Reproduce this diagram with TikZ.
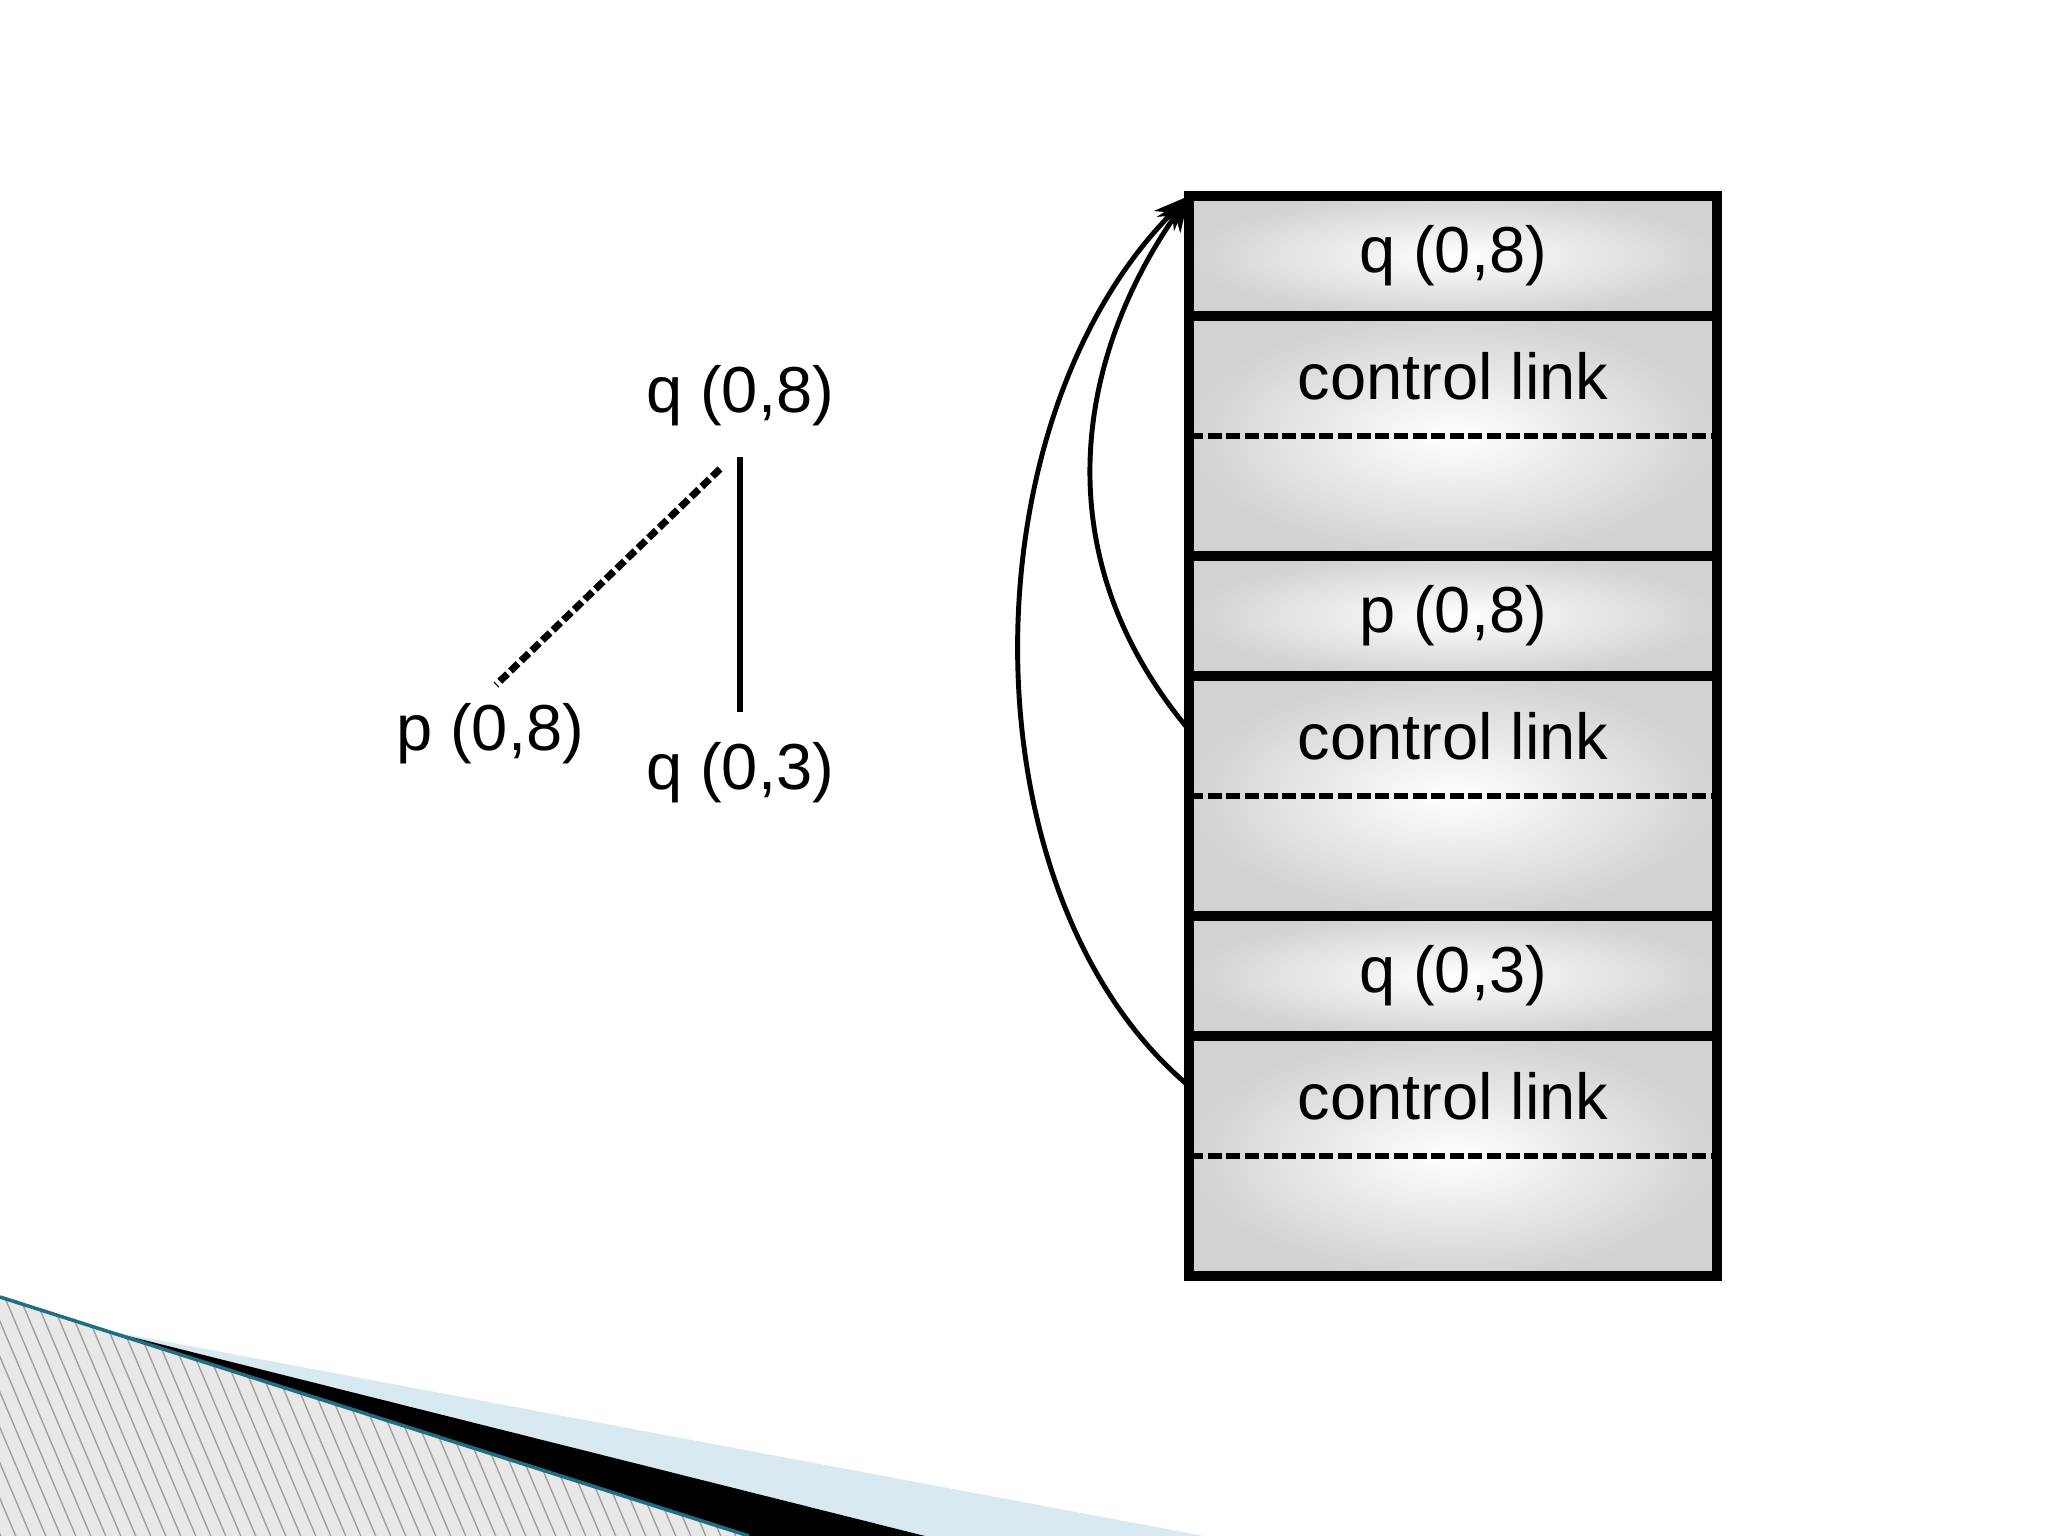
\documentclass[tikz,border=0pt]{standalone}
\usepackage{fontspec}
\setmainfont{Liberation Sans}
\usetikzlibrary{positioning, arrows.meta, calc}

\definecolor{slideteal}{RGB}{31,111,132}
\definecolor{slideblue}{RGB}{216,233,241}
\definecolor{hatchbg}{RGB}{232,232,232}
\definecolor{hatchline}{RGB}{160,160,160}

\tikzset{
  cell/.style={draw, line width=2.8pt, minimum width=5.28cm, inner sep=0pt, outer sep=0pt,
    shade, shading=radial, inner color=white, outer color=gray!35},
  hdcell/.style={cell, minimum height=1.2cm, font=\fontsize{18.5}{22}\selectfont},
  lkcell/.style={cell, minimum height=2.4cm},
  celltext/.style={inner sep=0pt, font=\fontsize{18.5}{22}\selectfont},
  treenode/.style={inner sep=0pt, font=\fontsize{18.5}{22}\selectfont},
  rowsep/.style={line width=1.8pt, dash pattern=on 4pt off 1.3pt},
  ctrl/.style={line width=1.4pt, -{Stealth[length=10pt, width=8pt]}},
}

\begin{document}
\begin{tikzpicture}
    \useasboundingbox (0,0) rectangle (20.48,15.36);
    \fill[white] (0,0) rectangle (20.48,15.36);

    % slide corner
    \begin{scope}
        \clip (0,2.39) -- (7.49,0) -- (0,0) -- cycle;
        \fill[hatchbg] (0,0) rectangle (7.5,2.4);
        \foreach \i in {-1.5,-1.35,...,7.5}
            \draw[hatchline, line width=0.4pt] (\i,2.5) -- ++(1.1,-2.6);
    \end{scope}
    \fill[slideblue] (1.04,2.06) -- (12.04,0) -- (9.25,0) -- cycle;
    \fill[black] (1.04,2.06) -- (9.25,0) -- (7.49,0) -- cycle;
    \draw[slideteal, line width=1pt] (0,2.39) -- (7.49,0);

    % call tree
    \node[treenode] (qtop) at (7.40,11.40) {q (0,8)};
    \node[treenode] (pleft) at (4.90,8.02) {p (0,8)};
    \node[treenode] (qbot) at (7.40,7.63) {q (0,3)};
    \draw[line width=1.9pt, shorten <=0.3cm, shorten >=0.3cm] (qtop.south) -- (qbot.north);
    \draw[line width=2pt, dash pattern=on 3pt off 1.2pt]
        ([xshift=-0.2cm,yshift=-0.42cm]qtop.south) -- ([xshift=0.06cm,yshift=0.18cm]pleft.north);

    % frame of q (0,8)
    \node[hdcell] (hdq8) at (14.53,12.80) {q (0,8)};
    \node[lkcell, below=0pt of hdq8] (lkq8) {};
    \node[celltext] (txq8) at ([yshift=-0.6cm]lkq8.north) {control link};
    \draw[rowsep] (lkq8.west) -- (lkq8.east);

    % frame of p (0,8)
    \node[hdcell, below=0pt of lkq8] (hdp8) {p (0,8)};
    \node[lkcell, below=0pt of hdp8] (lkp8) {};
    \node[celltext] (txp8) at ([yshift=-0.6cm]lkp8.north) {control link};
    \draw[rowsep] (lkp8.west) -- (lkp8.east);

    % frame of q (0,3)
    \node[hdcell, below=0pt of lkp8] (hdq3) {q (0,3)};
    \node[lkcell, below=0pt of hdq3] (lkq3) {};
    \node[celltext] (txq3) at ([yshift=-0.6cm]lkq3.north) {control link};
    \draw[rowsep] (lkq3.west) -- (lkq3.east);

    % control links
    \draw[ctrl] ([yshift=-0.54cm]lkp8.north west)
        to[out=130, in=235, out looseness=1.1, in looseness=0.94] (hdq8.north west);
    \draw[ctrl] ([yshift=-0.50cm]lkq3.north west)
        to[out=140, in=225, out looseness=0.85, in looseness=0.92] (hdq8.north west);
\end{tikzpicture}
\end{document}
